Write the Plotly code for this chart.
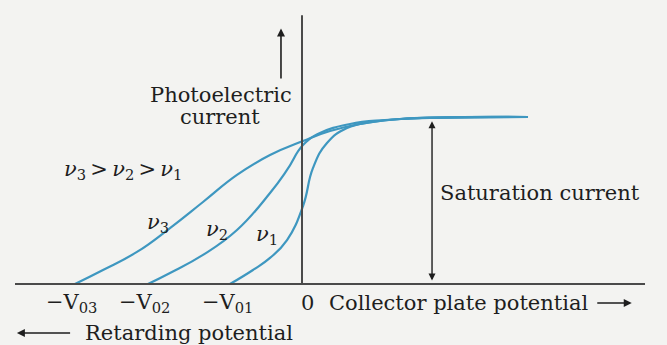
import plotly.graph_objects as go

# ---- data (potential in arbitrary units, current normalised to saturation) ----
curve_names = ["<i>ν</i><sub>3</sub>", "<i>ν</i><sub>2</sub>", "<i>ν</i><sub>1</sub>"]
nu3_v = [-3.153, -2.764, -2.292, -1.833, -1.375, -0.903, -0.444, 0.014, 0.389, 0.806, 1.361, 3.139]
nu3_i = [0.0, 0.084, 0.192, 0.335, 0.491, 0.653, 0.772, 0.856, 0.916, 0.958, 0.988, 1.0]
nu2_v = [-2.139, -1.833, -1.375, -0.903, -0.444, -0.208, 0.014, 0.25, 0.667, 1.153, 1.778, 3.139]
nu2_i = [0.0, 0.066, 0.174, 0.323, 0.545, 0.683, 0.832, 0.904, 0.958, 0.982, 0.994, 1.0]
nu1_v = [-1.0, -0.681, -0.444, -0.208, 0.014, 0.153, 0.347, 0.625, 0.986, 1.361, 1.917, 3.139]
nu1_i = [0.0, 0.084, 0.156, 0.263, 0.467, 0.695, 0.844, 0.934, 0.970, 0.988, 0.997, 1.0]
stop_potentials = [-3.153, -2.139, -1.0, 0.0]
tick_labels = ["−V<sub>03</sub>", "−V<sub>02</sub>", "−V<sub>01</sub>", "0"]
saturation_current = 1.0

LINE = "#3e97c0"
AX = "#4a4a4a"
TXT = "#1e1e1e"
FONT = dict(family="DejaVu Serif", size=21, color=TXT)

fig = go.Figure()
for v, i in [(nu3_v, nu3_i), (nu2_v, nu2_i), (nu1_v, nu1_i)]:
    fig.add_trace(go.Scatter(x=v, y=i, mode="lines",
                             line=dict(color=LINE, width=2.2, shape="spline", smoothing=1.3),
                             hoverinfo="skip", showlegend=False))

# axes drawn as shapes
fig.add_shape(type="line", x0=-3.986, x1=4.764, y0=0, y1=0, line=dict(color=AX, width=2))
fig.add_shape(type="line", x0=0, x1=0, y0=0, y1=1.61, line=dict(color=AX, width=2))

ann = []
# tick labels
for v, t in zip(stop_potentials, tick_labels):
    ann.append(dict(x=v, y=-0.114, text=t, showarrow=False, xanchor="center", yanchor="middle",
                    xshift=(5 if v == 0 else -3), font=FONT))
# axis titles
ann.append(dict(x=0.347, y=-0.114, text="Collector plate potential", showarrow=False,
                xanchor="left", yanchor="middle", font=FONT))
ann.append(dict(x=4.58, y=-0.114, ax=4.08, ay=-0.114, axref="x", ayref="y", text="",
                showarrow=True, arrowhead=2, arrowsize=1, arrowwidth=1.6, arrowcolor=TXT))
ann.append(dict(x=-3.042, y=-0.293, text="Retarding potential", showarrow=False,
                xanchor="left", yanchor="middle", font=FONT))
ann.append(dict(x=-3.96, y=-0.293, ax=-3.20, ay=-0.293, axref="x", ayref="y", text="",
                showarrow=True, arrowhead=2, arrowsize=1, arrowwidth=1.6, arrowcolor=TXT))
ann.append(dict(x=-1.125, y=1.132, text="Photoelectric", showarrow=False,
                xanchor="center", yanchor="middle", font=FONT))
ann.append(dict(x=-1.139, y=1.0, text="current", showarrow=False,
                xanchor="center", yanchor="middle", font=FONT))
ann.append(dict(x=-0.292, y=1.53, ax=-0.292, ay=1.222, axref="x", ayref="y", text="",
                showarrow=True, arrowhead=2, arrowsize=1, arrowwidth=1.6, arrowcolor=TXT))
# saturation arrow
ann.append(dict(x=1.806, y=saturation_current - 0.025, ax=1.806, ay=0.012, axref="x", ayref="y",
                text="", showarrow=True, arrowhead=2, startarrowhead=2, arrowside="end+start",
                arrowsize=1, arrowwidth=1.4, arrowcolor=TXT))
ann.append(dict(x=1.889, y=0.545, text="Saturation current", showarrow=False,
                xanchor="left", yanchor="middle", font=FONT))
# frequency labels
ann.append(dict(x=-2.49, y=0.683,
                text="<i>ν</i><sub>3</sub>\u2009>\u2009<i>ν</i><sub>2</sub>\u2009>\u2009<i>ν</i><sub>1</sub>",
                showarrow=False, xanchor="center", yanchor="middle", font=FONT))
for (lx, ly), name in zip([(-2.0, 0.365), (-1.18, 0.323), (-0.48, 0.293)], curve_names):
    ann.append(dict(x=lx, y=ly, text=name, showarrow=False, xanchor="center",
                    yanchor="middle", font=FONT))

fig.update_layout(
    width=667, height=345, margin=dict(l=0, r=0, t=0, b=0),
    paper_bgcolor="#f3f3f1", plot_bgcolor="#f3f3f1",
    xaxis=dict(range=[-4.1944, 5.0694], visible=False, fixedrange=True),
    yaxis=dict(range=[-0.3653, 1.7006], visible=False, fixedrange=True),
    annotations=ann, showlegend=False,
)
fig.write_html("out.html", config={"displayModeBar": False},
               post_script="document.body.style.margin='0';document.body.style.overflow='hidden';")
